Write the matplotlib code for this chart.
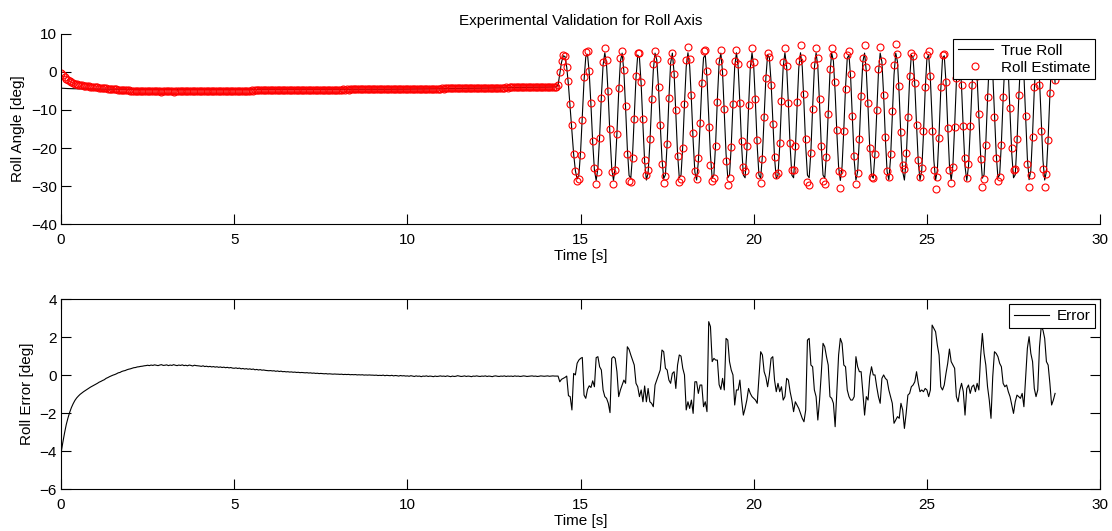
import numpy as np
import matplotlib
matplotlib.use("Agg")
import matplotlib.pyplot as plt

plt.rcParams['font.family'] = ['Liberation Sans', 'DejaVu Sans']
plt.rcParams['font.size'] = 11

# sample period of the logged data [s]
dt = 0.05

# true roll angle [deg], one row per second of log
roll_true = [
    -4.30, -4.33, -4.36, -4.38, -4.40, -4.42, -4.43, -4.44, -4.45, -4.46, -4.47, -4.48, -4.48, -4.49, -4.50, -4.50, -4.51, -4.51, -4.52, -4.52,
    -4.53, -4.53, -4.54, -4.54, -4.55, -4.55, -4.55, -4.56, -4.56, -4.56, -4.57, -4.57, -4.57, -4.58, -4.58, -4.58, -4.58, -4.59, -4.59, -4.59,
    -4.59, -4.60, -4.60, -4.60, -4.60, -4.61, -4.61, -4.61, -4.61, -4.61, -4.62, -4.62, -4.62, -4.62, -4.62, -4.62, -4.62, -4.62, -4.62, -4.62,
    -4.62, -4.62, -4.62, -4.62, -4.62, -4.62, -4.61, -4.61, -4.61, -4.61, -4.61, -4.61, -4.61, -4.61, -4.61, -4.61, -4.61, -4.61, -4.61, -4.61,
    -4.61, -4.61, -4.61, -4.61, -4.61, -4.61, -4.61, -4.61, -4.61, -4.61, -4.60, -4.60, -4.60, -4.60, -4.60, -4.60, -4.60, -4.60, -4.60, -4.60,
    -4.60, -4.60, -4.60, -4.60, -4.60, -4.60, -4.60, -4.60, -4.60, -4.60, -4.60, -4.60, -4.60, -4.60, -4.60, -4.60, -4.60, -4.60, -4.60, -4.60,
    -4.60, -4.60, -4.60, -4.60, -4.60, -4.60, -4.60, -4.60, -4.60, -4.60, -4.60, -4.60, -4.60, -4.60, -4.60, -4.60, -4.60, -4.60, -4.60, -4.60,
    -4.60, -4.60, -4.60, -4.60, -4.60, -4.60, -4.60, -4.60, -4.60, -4.60, -4.61, -4.61, -4.61, -4.61, -4.61, -4.61, -4.61, -4.61, -4.61, -4.61,
    -4.61, -4.61, -4.61, -4.61, -4.61, -4.61, -4.61, -4.61, -4.61, -4.61, -4.61, -4.61, -4.61, -4.61, -4.61, -4.61, -4.61, -4.61, -4.61, -4.61,
    -4.61, -4.61, -4.60, -4.60, -4.60, -4.60, -4.59, -4.59, -4.59, -4.58, -4.58, -4.58, -4.57, -4.57, -4.57, -4.56, -4.56, -4.55, -4.55, -4.55,
    -4.54, -4.54, -4.53, -4.53, -4.52, -4.52, -4.51, -4.51, -4.50, -4.50, -4.49, -4.49, -4.48, -4.48, -4.47, -4.47, -4.46, -4.46, -4.45, -4.45,
    -4.44, -4.44, -4.43, -4.42, -4.42, -4.41, -4.40, -4.40, -4.39, -4.38, -4.38, -4.37, -4.36, -4.36, -4.35, -4.34, -4.34, -4.33, -4.32, -4.32,
    -4.31, -4.30, -4.30, -4.29, -4.28, -4.27, -4.27, -4.26, -4.25, -4.24, -4.24, -4.23, -4.22, -4.21, -4.21, -4.20, -4.19, -4.18, -4.18, -4.17,
    -4.16, -4.15, -4.15, -4.14, -4.13, -4.12, -4.12, -4.11, -4.10, -4.09, -4.09, -4.08, -4.07, -4.06, -4.06, -4.05, -4.05, -4.04, -4.04, -4.03,
    -4.03, -4.01, -4.00, -3.99, -3.98, -3.97, -3.96, -3.5, -0.5, 2.5, 4.2, 4.0, 1.2, -3.5, -9.5, -15.8, -21.6, -25.9, -28.1, -27.2,
    -21.0, -11.7, -2.3, 3.9, 4.6, -0.3, -8.8, -18.5, -25.8, -28.5, -25.3, -16.9, -6.6, 1.8, 5.0, 1.8, -6.6, -16.9, -25.3, -28.5,
    -25.0, -16.1, -5.4, 2.8, 4.9, 0.1, -9.5, -20.1, -27.2, -27.9, -21.9, -11.8, -1.6, 4.4, 3.7, -3.4, -13.9, -23.6, -28.4, -26.5,
    -18.9, -8.6, 0.4, 4.9, 3.1, -4.0, -13.8, -22.8, -28.0, -27.0, -18.7, -7.1, 2.3, 4.9, -0.3, -10.6, -21.5, -27.8, -27.1, -19.5,
    -8.4, 1.3, 5.0, 1.5, -7.4, -18.1, -26.3, -28.4, -23.6, -14.0, -3.4, 3.7, 4.4, -1.6, -11.8, -21.9, -27.9, -27.0, -18.7, -7.1,
    2.3, 4.9, -0.3, -10.6, -21.5, -27.8, -27.1, -19.5, -8.4, 1.3, 5.0, 1.3, -8.4, -19.5, -27.1, -27.8, -20.8, -9.4, 1.0, 5.0,
    1.3, -8.4, -19.5, -27.1, -27.9, -21.9, -11.8, -1.6, 4.4, 3.8, -2.6, -12.8, -22.5, -28.0, -27.1, -19.5, -8.4, 1.3, 5.0, 1.3,
    -8.4, -19.5, -27.1, -27.8, -20.8, -9.4, 1.0, 5.0, 1.3, -8.4, -19.5, -27.1, -27.8, -20.8, -9.4, 1.0, 5.0, 1.3, -8.4, -19.5,
    -27.1, -27.9, -21.5, -10.6, -0.3, 4.9, 2.8, -5.4, -16.1, -25.0, -28.5, -24.8, -15.1, -4.0, 3.6, 4.4, -2.0, -12.9, -23.2, -28.4,
    -26.1, -17.4, -6.1, 2.7, 4.9, 0.1, -9.5, -20.1, -27.2, -27.9, -21.5, -10.6, -0.3, 4.9, 2.6, -6.1, -17.4, -26.2, -28.3, -22.7,
    -11.8, -0.8, 4.9, 2.6, -6.1, -17.4, -26.2, -28.4, -23.2, -12.9, -2.0, 4.4, 3.7, -3.4, -13.9, -23.6, -28.4, -25.9, -16.4, -4.7,
    3.5, 4.4, -2.0, -12.9, -23.2, -28.4, -25.9, -16.4, -4.7, 3.5, 4.2, -2.7, -14.2, -24.5, -28.5, -24.5, -14.2, -2.7, 4.2, 3.6,
    -4.0, -15.1, -24.8, -28.5, -24.8, -15.1, -4.0, 3.6, 4.4, -1.6, -11.8, -21.9, -27.9, -27.0, -18.7, -7.1, 2.3, 4.9, -0.3, -10.6,
    -21.5, -27.8, -27.0, -18.7, -7.1, 2.3, 4.9, -0.3, -10.6, -21.5, -27.8, -27.0, -18.7, -7.1, 2.3, 4.9, -0.8, -11.8, -22.7, -28.3,
    -25.9, -16.4, -4.7, 3.5, 4.4, -2.0, -12.9, -23.2, -28.4, -26.1, -17.4, -6.1, 2.7, 5.0, -3.0,
]

# roll error [deg] = true roll - estimate, same samples
roll_error = [
    -4.10, -3.55, -3.05, -2.60, -2.25, -1.95, -1.70, -1.50, -1.33, -1.20, -1.10, -1.01, -0.94, -0.87, -0.81, -0.75, -0.69, -0.63, -0.58, -0.53,
    -0.48, -0.43, -0.37, -0.33, -0.28, -0.24, -0.17, -0.13, -0.08, -0.04, 0.00, 0.03, 0.07, 0.12, 0.14, 0.19, 0.22, 0.24, 0.28, 0.31,
    0.33, 0.36, 0.39, 0.40, 0.43, 0.44, 0.46, 0.47, 0.49, 0.50, 0.52, 0.50, 0.53, 0.51, 0.54, 0.52, 0.50, 0.53, 0.55, 0.51,
    0.52, 0.54, 0.50, 0.53, 0.51, 0.55, 0.52, 0.50, 0.53, 0.51, 0.54, 0.50, 0.52, 0.49, 0.53, 0.51, 0.48, 0.52, 0.50, 0.49,
    0.48, 0.46, 0.49, 0.45, 0.47, 0.44, 0.46, 0.43, 0.45, 0.42, 0.44, 0.41, 0.43, 0.40, 0.42, 0.39, 0.41, 0.38, 0.40, 0.37,
    0.36, 0.38, 0.35, 0.37, 0.33, 0.35, 0.32, 0.34, 0.31, 0.33, 0.30, 0.32, 0.28, 0.30, 0.27, 0.29, 0.26, 0.27, 0.25, 0.24,
    0.23, 0.24, 0.22, 0.23, 0.20, 0.22, 0.19, 0.21, 0.18, 0.19, 0.17, 0.18, 0.16, 0.17, 0.15, 0.16, 0.14, 0.15, 0.13, 0.14,
    0.13, 0.12, 0.13, 0.11, 0.12, 0.10, 0.11, 0.09, 0.10, 0.08, 0.09, 0.08, 0.07, 0.08, 0.06, 0.07, 0.06, 0.05, 0.06, 0.05,
    0.05, 0.04, 0.05, 0.03, 0.04, 0.03, 0.04, 0.02, 0.03, 0.02, 0.03, 0.01, 0.02, 0.01, 0.02, 0.00, 0.01, 0.00, 0.01, 0.00,
    0.00, -0.01, 0.00, -0.02, -0.01, -0.02, 0.00, -0.03, -0.01, -0.02, -0.03, -0.01, -0.04, -0.02, -0.03, -0.05, -0.02, -0.04, -0.03, -0.05,
    -0.04, -0.06, -0.03, -0.05, -0.07, -0.04, -0.06, -0.05, -0.08, -0.05, -0.06, -0.04, -0.07, -0.05, -0.06, -0.08, -0.05, -0.07, -0.06, -0.04,
    -0.06, -0.05, -0.07, -0.04, -0.06, -0.08, -0.05, -0.07, -0.06, -0.03, -0.05, -0.07, -0.06, -0.04, -0.07, -0.05, -0.06, -0.08, -0.05, -0.06,
    -0.04, -0.06, -0.07, -0.05, -0.06, -0.04, -0.07, -0.05, -0.06, -0.08, -0.05, -0.04, -0.06, -0.07, -0.05, -0.06, -0.04, -0.07, -0.05, -0.06,
    -0.05, -0.07, -0.04, -0.06, -0.05, -0.07, -0.06, -0.04, -0.05, -0.07, -0.06, -0.05, -0.04, -0.06, -0.05, -0.07, -0.06, -0.04, -0.05, -0.06,
    -0.05, -0.04, -0.06, -0.05, -0.04, -0.05, -0.05, -0.05, -0.35, -0.22, -0.17, -0.12, -0.05, -1.08, -1.13, -1.83, 0.09, 0.01, 0.62, 0.79,
    0.88, 0.93, -1.05, -1.22, -0.75, -0.56, -0.65, -0.30, -0.61, 0.92, 0.97, 0.44, 0.27, -0.78, -1.13, -1.22, -1.48, -1.97, 0.88, 0.97,
    0.88, 0.18, -1.13, -0.78, -0.52, -0.26, -0.43, 1.49, 1.35, 1.06, 0.79, 0.53, -0.43, -0.61, -1.13, -0.78, -1.40, -0.57, -1.40, -0.70,
    -1.40, -1.48, -1.66, -0.52, -0.26, 0.01, 0.27, 1.32, 1.23, 0.36, 0.27, -0.26, -0.43, 0.09, 0.18, -0.70, 0.53, 1.06, 1.00, 0.36,
    0.01, -1.83, -1.40, -1.75, -1.31, -2.01, -0.35, -0.35, -0.96, -0.52, -0.52, -1.66, -1.40, -1.92, 2.81, 2.55, 0.71, 0.88, 0.79, 0.79,
    -0.50, -0.75, -0.17, -0.78, 1.93, 1.84, 0.71, 0.27, 0.01, -1.57, -0.78, -0.78, -0.26, -1.31, -2.10, -1.75, -1.31, -0.70, -0.96, -1.13,
    -1.22, -1.31, -1.48, -0.08, 1.23, 1.06, 0.18, -0.10, -0.61, 0.01, 0.88, 0.97, -0.26, -0.87, -0.43, -0.87, -0.61, -1.31, -1.13, -0.17,
    -0.26, -0.87, -1.31, -1.92, -1.40, -1.57, -1.75, -2.01, -2.27, -2.45, -1.83, 1.84, 1.93, 0.53, 0.44, -0.78, -1.13, -2.36, -1.31, 0.09,
    1.67, 1.49, 0.97, 0.53, -1.13, -1.22, -1.48, -2.71, -0.78, 1.06, 1.93, 1.67, 0.53, 0.44, -0.78, -1.13, -1.31, -1.31, -1.13, 0.97,
    0.44, 0.18, 0.18, -0.90, -2.10, -1.13, -1.31, -0.08, 0.44, 0.01, 0.01, -0.61, -1.13, -1.48, -0.17, 0.01, -0.17, -0.26, -0.78, -1.13,
    -1.48, -2.53, -2.36, -2.18, -2.27, -1.48, -1.83, -2.80, -2.01, -1.05, -0.96, -0.61, -0.52, -0.35, 0.18, -0.43, -0.87, -0.78, -0.87, -0.70,
    -0.78, -1.13, -0.78, 2.63, 2.46, 2.28, 1.58, 1.06, -0.61, -0.78, -0.52, 0.09, 0.62, 1.37, 0.71, 0.53, 0.36, -1.13, -1.40, -0.78,
    -0.43, -0.87, -2.10, -0.70, -0.52, -0.96, -0.61, -0.52, -0.87, -0.43, -0.78, 0.97, 2.19, 1.14, 0.53, -0.61, -1.31, -2.27, -0.08, 1.23,
    1.14, 0.97, 0.62, 0.44, -0.43, -0.61, -0.52, -0.87, -1.13, -1.57, -2.01, -1.40, -1.05, -1.13, -1.22, -0.96, -1.66, -0.08, 1.41, 2.02,
    1.14, 0.71, -0.70, -1.13, -0.78, 1.49, 2.54, 2.37, 1.93, 0.71, 0.53, -0.43, -1.57, -1.31, -0.96,
]

time = np.arange(len(roll_true)) * dt
roll_est = np.array(roll_true) - np.array(roll_error)

fig = plt.figure(figsize=(11.12, 5.31), dpi=100)

# top: true roll vs estimate
ax1 = fig.add_axes([0.0549, 0.5776, 0.9344, 0.359])
ax1.plot(time, roll_true, color='k', lw=0.8, label='True Roll')
ax1.plot(time, roll_est, 'o', mfc='none', mec='r', ms=5, mew=0.8, label='Roll Estimate')
ax1.set_xlim(0, 30)
ax1.set_ylim(-40, 10)
ax1.set_yticks([-40, -30, -20, -10, 0, 10])
ax1.spines['top'].set_visible(False)
ax1.spines['right'].set_visible(False)
ax1.tick_params(direction='in', length=7.5, width=0.8)
ax1.tick_params(axis='x', pad=6)
ax1.tick_params(axis='y', pad=3)
ax1.set_xlabel('Time [s]', labelpad=2)
ax1.set_ylabel('Roll Angle [deg]')
ax1.yaxis.set_label_coords(-0.0346, 0.5)
ax1.set_title('Experimental Validation for Roll Axis', fontsize=11, pad=6)
leg1 = ax1.legend(loc='upper right', fancybox=False, edgecolor='k', framealpha=1,
                  borderaxespad=0.35, borderpad=0.3, labelspacing=0.2,
                  handlelength=2.3, handletextpad=0.5)
leg1.get_frame().set_linewidth(0.8)

# bottom: roll error
ax2 = fig.add_axes([0.0549, 0.0785, 0.9344, 0.3584])
ax2.plot(time, roll_error, color='k', lw=0.8, label='Error')
ax2.set_xlim(0, 30)
ax2.set_ylim(-6, 4)
ax2.set_yticks([-6, -4, -2, 0, 2, 4])
ax2.tick_params(direction='in', length=7.5, width=0.8, top=True, right=True)
ax2.tick_params(axis='x', pad=6)
ax2.tick_params(axis='y', pad=3)
ax2.set_xlabel('Time [s]', labelpad=2)
ax2.set_ylabel('Roll Error [deg]')
ax2.yaxis.set_label_coords(-0.026, 0.5)
leg2 = ax2.legend(loc='upper right', fancybox=False, edgecolor='k', framealpha=1,
                  borderaxespad=0.35, borderpad=0.3, handlelength=2.3, handletextpad=0.5)
leg2.get_frame().set_linewidth(0.8)

fig.savefig('out.png', dpi=100)
